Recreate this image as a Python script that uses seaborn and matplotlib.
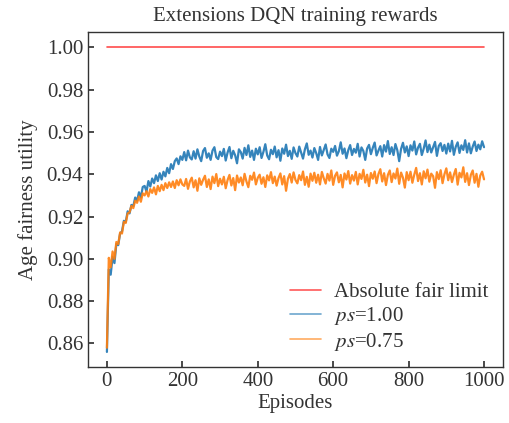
import numpy as np
import pandas as pd
import matplotlib
matplotlib.use('Agg')
import matplotlib.pyplot as plt
import seaborn as sns

# episodes sampled every 5 steps
episodes = list(range(0, 1001, 5))

# ps = 1.00 (blue)
reward_ps100 = [
	0.8560, 0.8950, 0.8925, 0.9010, 0.8980, 0.9070, 0.9065, 0.9120, 0.9130, 0.9180,
	0.9175, 0.9225, 0.9215, 0.9255, 0.9250, 0.9290, 0.9275, 0.9315, 0.9290, 0.9340,
	0.9345, 0.9318, 0.9368, 0.9342, 0.9380, 0.9358, 0.9395, 0.9368, 0.9405, 0.9375,
	0.9412, 0.9390, 0.9430, 0.9405, 0.9448, 0.9425, 0.9462, 0.9475, 0.9448, 0.9485,
	0.9468,
	0.9505, 0.9466, 0.9512, 0.9480, 0.9470, 0.9509, 0.9474, 0.9518, 0.9484, 0.9462,
	0.9510, 0.9524, 0.9478, 0.9499, 0.9468, 0.9512, 0.9528, 0.9481, 0.9472, 0.9507,
	0.9486, 0.9520, 0.9465, 0.9503, 0.9529, 0.9476, 0.9511, 0.9490, 0.9452, 0.9518,
	0.9505, 0.9474, 0.9525, 0.9491, 0.9537, 0.9482, 0.9512, 0.9468, 0.9521, 0.9494,
	0.9528, 0.9477, 0.9506, 0.9542, 0.9489, 0.9471, 0.9516, 0.9495, 0.9531, 0.9480,
	0.9514, 0.9464, 0.9522, 0.9497, 0.9540, 0.9486, 0.9511, 0.9473, 0.9527, 0.9500,
	0.9484, 0.9531, 0.9503, 0.9474, 0.9518, 0.9546, 0.9492, 0.9512, 0.9479, 0.9524,
	0.9500, 0.9468, 0.9529, 0.9489, 0.9515, 0.9541, 0.9494, 0.9477, 0.9521, 0.9506,
	0.9534, 0.9488, 0.9509, 0.9551, 0.9497, 0.9522, 0.9476, 0.9514, 0.9538, 0.9491,
	0.9520, 0.9502, 0.9544, 0.9484, 0.9527, 0.9510, 0.9468, 0.9522, 0.9539, 0.9495,
	0.9525, 0.9550, 0.9489, 0.9512, 0.9533, 0.9484, 0.9538, 0.9507, 0.9557, 0.9496,
	0.9528, 0.9491, 0.9543, 0.9514, 0.9462, 0.9520, 0.9549, 0.9503, 0.9532, 0.9486,
	0.9537, 0.9512, 0.9555, 0.9494, 0.9526, 0.9544, 0.9491, 0.9521, 0.9560, 0.9505,
	0.9540, 0.9503, 0.9528, 0.9553, 0.9487, 0.9534, 0.9547, 0.9510, 0.9539, 0.9498,
	0.9545, 0.9508, 0.9558, 0.9492, 0.9530, 0.9551, 0.9501, 0.9537, 0.9515, 0.9561,
	0.9503, 0.9546, 0.9499, 0.9531, 0.9555, 0.9510, 0.9540, 0.9518, 0.9556, 0.9528,
]

# ps = 0.75 (orange)
reward_ps075 = [
	0.8580, 0.9005, 0.8960, 0.9035, 0.9000, 0.9080, 0.9070, 0.9125, 0.9120, 0.9175,
	0.9170, 0.9215, 0.9220, 0.9250, 0.9240, 0.9275, 0.9265, 0.9295, 0.9270, 0.9310,
	0.9300, 0.9320, 0.9295, 0.9330, 0.9312, 0.9338, 0.9305, 0.9345, 0.9320, 0.9350,
	0.9325, 0.9358, 0.9335, 0.9362, 0.9340, 0.9366, 0.9335, 0.9372, 0.9348, 0.9376,
	0.9352,
	0.9345, 0.9378, 0.9331, 0.9366, 0.9384, 0.9338, 0.9372, 0.9322, 0.9381, 0.9350,
	0.9374, 0.9393, 0.9340, 0.9376, 0.9330, 0.9389, 0.9358, 0.9401, 0.9344, 0.9379,
	0.9352, 0.9388, 0.9334, 0.9373, 0.9397, 0.9347, 0.9382, 0.9325, 0.9394, 0.9361,
	0.9385, 0.9348, 0.9402, 0.9366, 0.9339, 0.9393, 0.9374, 0.9408, 0.9352, 0.9383,
	0.9398, 0.9355, 0.9386, 0.9340, 0.9395, 0.9371, 0.9410, 0.9358, 0.9389, 0.9346,
	0.9382, 0.9404, 0.9352, 0.9391, 0.9322, 0.9379, 0.9401, 0.9361, 0.9409, 0.9373,
	0.9357, 0.9396, 0.9372, 0.9413, 0.9350, 0.9388, 0.9341, 0.9403, 0.9369, 0.9407,
	0.9360, 0.9398, 0.9352, 0.9411, 0.9381, 0.9356, 0.9402, 0.9370, 0.9418, 0.9350,
	0.9393, 0.9409, 0.9362, 0.9397, 0.9338, 0.9404, 0.9375, 0.9415, 0.9356, 0.9396,
	0.9370, 0.9411, 0.9352, 0.9402, 0.9378, 0.9421, 0.9361, 0.9398, 0.9344, 0.9406,
	0.9379, 0.9413, 0.9358, 0.9401, 0.9424, 0.9366, 0.9405, 0.9349, 0.9397, 0.9418,
	0.9363, 0.9404, 0.9380, 0.9427, 0.9355, 0.9408, 0.9384, 0.9337, 0.9410, 0.9372,
	0.9412, 0.9360, 0.9398, 0.9430, 0.9368, 0.9405, 0.9352, 0.9414, 0.9381, 0.9422,
	0.9365, 0.9403, 0.9391, 0.9336, 0.9410, 0.9377, 0.9419, 0.9358, 0.9400, 0.9428,
	0.9372, 0.9409, 0.9363, 0.9398, 0.9425, 0.9351, 0.9407, 0.9385, 0.9433, 0.9364,
	0.9405, 0.9349, 0.9397, 0.9418, 0.9360, 0.9402, 0.9341, 0.9394, 0.9412, 0.9376,
]

limit_episodes = [0, 1000]
limit_values = [1.0, 1.0]

series_labels = ['$ps$=1.00', '$ps$=0.75']
palette = {'$ps$=1.00': '#1f77b4', '$ps$=0.75': '#ff7f0e'}

df = pd.DataFrame({
	'episode': episodes * 2,
	'reward': reward_ps100 + reward_ps075,
	'run': [series_labels[0]] * len(episodes) + [series_labels[1]] * len(episodes),
})

sns.set_theme(style='ticks')
plt.rcParams['font.family'] = ['Liberation Serif', 'DejaVu Serif']
plt.rcParams['mathtext.fontset'] = 'stix'
plt.rcParams['xtick.direction'] = 'in'
plt.rcParams['ytick.direction'] = 'in'

fig, ax = plt.subplots(figsize=(5.09, 4.23), dpi=100)
fig.subplots_adjust(left=0.173, right=0.988, top=0.924, bottom=0.132)

ax.plot(limit_episodes, limit_values, color='red', alpha=0.7, lw=1.2, label='Absolute fair limit')
sns.lineplot(data=df, x='episode', y='reward', hue='run', palette=palette,
	alpha=0.9, lw=1.6, ax=ax)

for side in ['top', 'right', 'left', 'bottom']:
	ax.spines[side].set_color('#333333')
	ax.spines[side].set_linewidth(1.0)

ax.set_yticks([0.86, 0.88, 0.90, 0.92, 0.94, 0.96, 0.98, 1.00])
ax.tick_params(labelsize=15, length=4, colors='#333333')
ax.set_xlabel('Episodes', fontsize=15, color='#333333', labelpad=2)
ax.set_ylabel('Age fairness utility', fontsize=15, color='#333333', labelpad=6)
ax.set_title('Extensions DQN training rewards', fontsize=15, color='#333333', pad=8)

leg = ax.legend(loc='lower right', frameon=False, fontsize=15, handlelength=1.5,
	handletextpad=0.6, labelspacing=0.15, borderaxespad=0.3)
for line in leg.get_lines():
	line.set_linewidth(1.2)
	line.set_alpha(0.65)
for t in leg.get_texts():
	t.set_color('#333333')

fig.savefig('out.png', dpi=100)
